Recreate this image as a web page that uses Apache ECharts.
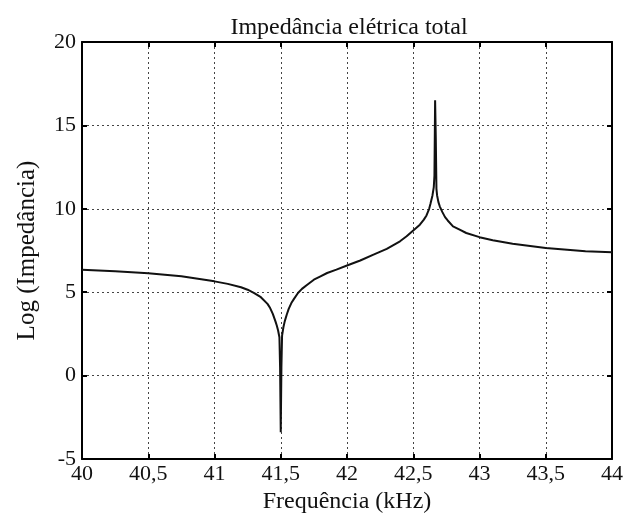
<!DOCTYPE html>
<html>
<head>
<meta charset="utf-8">
<script src="https://cdn.jsdelivr.net/npm/echarts@6/dist/echarts.min.js"></script>
<style>html,body{margin:0;padding:0;background:#fff;}#c{width:626px;height:516px;}</style>
</head>
<body>
<div id="c"></div>
<script>
const freq = [40.00,40.25,40.50,40.75,41.00,41.10,41.20,41.25,41.30,41.35,41.40,41.42,41.44,41.46,41.47,41.48,41.49,41.495,41.50,41.505,41.51,41.52,41.53,41.545,41.56,41.58,41.60,41.63,41.66,41.70,41.75,41.80,41.85,41.92,42.00,42.10,42.20,42.30,42.40,42.45,42.50,42.55,42.58,42.60,42.62,42.63,42.645,42.655,42.66,42.665,42.67,42.675,42.68,42.69,42.70,42.72,42.74,42.76,42.80,42.85,42.90,43.00,43.10,43.25,43.50,43.80,44.00];
const logZ = [6.35,6.25,6.14,5.95,5.65,5.50,5.30,5.15,4.95,4.70,4.30,4.05,3.70,3.25,3.00,2.70,2.30,0.5,-3.4,0.5,2.40,2.90,3.25,3.65,4.00,4.35,4.60,4.95,5.20,5.45,5.75,5.95,6.15,6.35,6.60,6.90,7.25,7.60,8.05,8.35,8.70,9.05,9.35,9.60,10.00,10.30,10.80,11.30,12.0,16.5,14.3,11.2,10.8,10.4,10.15,9.80,9.50,9.30,8.95,8.75,8.55,8.30,8.12,7.90,7.65,7.45,7.40];
const xTicks = {min: 40, max: 44, step: 0.5};
const yTicks = {min: -5, max: 20, step: 5};
const title = 'Impedância elétrica total';
const xName = 'Frequência (kHz)';
const yName = 'Log (Impedância)';

const font = 'Liberation Serif';
const chart = echarts.init(document.getElementById('c'));
const gridLine = {show: true, lineStyle: {color: '#444', type: [2, 3], width: 1}};
const axisLine = {show: true, onZero: false, lineStyle: {color: '#000', width: 2}};
const tick = {show: true, inside: true, length: 5, lineStyle: {color: '#000', width: 2}};
chart.setOption({
  animation: false,
  title: {text: title, left: 344, top: 11, textAlign: 'center',
    textStyle: {fontFamily: font, fontSize: 24, fontWeight: 'normal', color: '#111'}},
  grid: {left: 82, right: 14, top: 42, bottom: 57, containLabel: false, outerBoundsMode: 'none'},
  xAxis: [{
    type: 'value', min: xTicks.min, max: xTicks.max, interval: xTicks.step,
    name: xName, nameLocation: 'middle', nameGap: 27,
    nameTextStyle: {fontFamily: font, fontSize: 24, color: '#111'},
    axisLine: axisLine, axisTick: tick, splitLine: gridLine,
    axisLabel: {fontFamily: font, fontSize: 22, color: '#111', margin: 4,
      formatter: v => String(v).replace('.', ',')}
  }, {
    type: 'value', position: 'top', min: xTicks.min, max: xTicks.max, interval: xTicks.step,
    axisLine: axisLine, axisTick: tick, axisLabel: {show: false}, splitLine: {show: false}
  }],
  yAxis: [{
    type: 'value', min: yTicks.min, max: yTicks.max, interval: yTicks.step,
    name: yName, nameLocation: 'middle', nameGap: 42,
    nameTextStyle: {fontFamily: font, fontSize: 25, color: '#111'},
    axisLine: axisLine, axisTick: tick, splitLine: gridLine,
    axisLabel: {fontFamily: font, fontSize: 22, color: '#111', margin: 6}
  }, {
    type: 'value', position: 'right', min: yTicks.min, max: yTicks.max, interval: yTicks.step,
    axisLine: axisLine, axisTick: tick, axisLabel: {show: false}, splitLine: {show: false}
  }],
  series: [{
    type: 'line', xAxisIndex: 0, yAxisIndex: 0, showSymbol: false, symbol: 'none',
    smooth: false, lineStyle: {color: '#111', width: 2},
    data: freq.map((f, i) => [f, logZ[i]])
  }]
});
</script>
</body>
</html>
